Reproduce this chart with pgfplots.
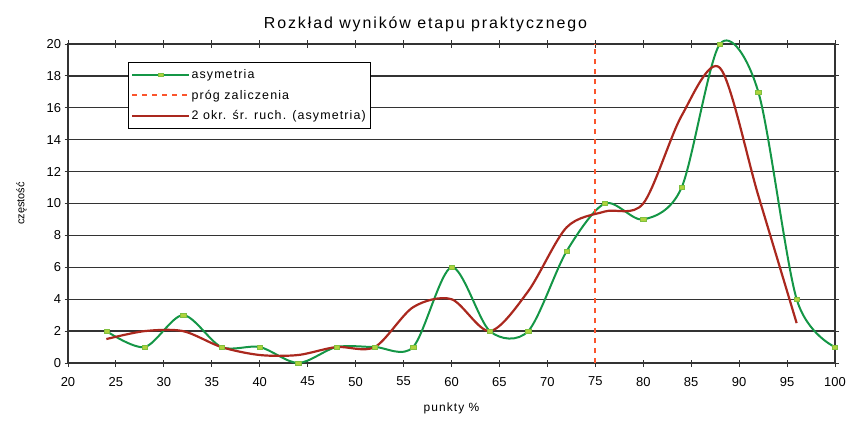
\documentclass[border=0pt]{standalone}
\usepackage{pgfplots}
\pgfplotsset{compat=1.18}
\usepackage{fontspec}
\setmainfont{Liberation Sans}
\newfontfamily\titlefont[LetterSpace=12]{Liberation Sans}
\newfontfamily\legfont[LetterSpace=9]{Liberation Sans}
\definecolor{grn}{RGB}{20,150,70}
\definecolor{mk}{RGB}{175,210,60}
\definecolor{brn}{RGB}{170,40,30}
\definecolor{org}{RGB}{250,85,45}
\begin{document}
\begin{tikzpicture}
\begin{axis}[
  scale only axis,
  width=767bp, height=319bp,
  xmin=20, xmax=100, ymin=0, ymax=20,
  xtick={20,25,...,100}, ytick={0,2,...,20},
  ymajorgrids, major grid style={black!80, line width=1.3pt},
  axis line style={black!80, line width=1.3pt},
  tick style={black!80, line width=1pt},
  major tick length=7bp,
  tick align=center,
  tick label style={font=\fontsize{13}{15}\selectfont},
  xticklabel style={yshift=-7bp},
  /pgf/number format/assume math mode=true,
  title={\titlefont Rozkład wyników etapu praktycznego},
  title style={font=\fontsize{16}{18}\selectfont, yshift=3bp, xshift=-26bp},
  xlabel={punkty \%}, ylabel={częstość},
  xlabel style={font=\fontsize{12}{14}\selectfont\legfont, yshift=-10bp},
  ylabel style={font=\fontsize{11}{13}\selectfont, yshift=13bp},
  clip=false,
  legend style={at={(0.078,0.944)}, anchor=north west, draw=black, line width=1pt,
    font=\fontsize{12.5}{14}\selectfont\legfont, row sep=6bp, inner xsep=3bp, inner ysep=5bp,
    cells={anchor=west}},
  legend cell align=left,
  legend image code/.code={\draw[mark repeat=2,mark phase=2] plot coordinates {(20bp,0bp) (48bp,0bp) (76bp,0bp)};},
]
\addplot[grn, line width=2pt, smooth, tension=0.5, mark=square*, mark size=1.9pt,
  mark options={fill=mk, draw=mk!70!grn, line width=0.4pt, xscale=1.4, solid}] coordinates {
(24,2) (28,1) (32,3) (36,1) (40,1) (44,0) (48,1) (52,1) (56,1) (60,6)
(64,2) (68,2) (72,7) (76,10) (80,9) (84,11) (88,20) (92,17) (96,4) (100,1)};
\addlegendentry{asymetria}
\addplot[org, line width=2pt, dash pattern=on 5pt off 5pt] coordinates {(75,0) (75,20)};
\addlegendentry{próg zaliczenia}
\addplot[brn, line width=2.2pt, smooth, tension=0.5] coordinates {
(24,1.5) (28,2) (32,2) (36,1) (40,0.5) (44,0.5) (48,1) (52,1) (56,3.5) (60,4)
(64,2) (68,4.5) (72,8.5) (76,9.5) (80,10) (84,15.5) (88,18.5) (92,10.5) (96,2.5)};
\addlegendentry{2 okr. śr. ruch. (asymetria)}
\end{axis}
\pgfresetboundingbox
\path ([shift={(-68bp,-62bp)}]current axis.south west) rectangle ([shift={(15bp,44bp)}]current axis.north east);
\end{tikzpicture}
\end{document}
